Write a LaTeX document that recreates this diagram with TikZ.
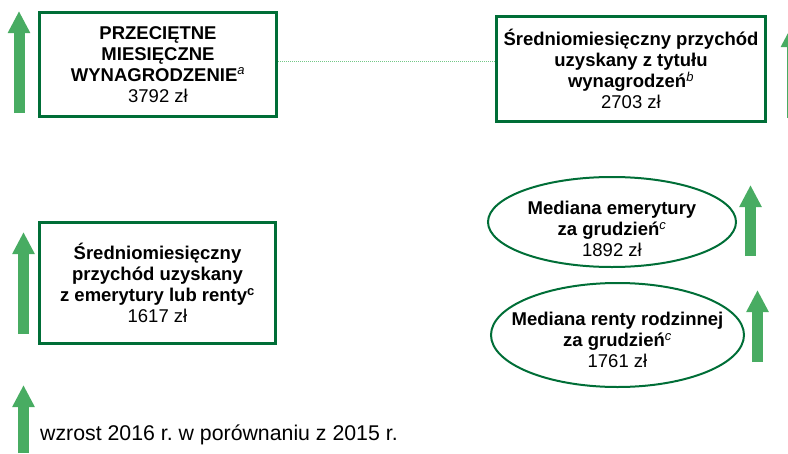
\documentclass[tikz,border=0pt]{standalone}
\usepackage{fontspec}
\setmainfont{Liberation Sans}
\frenchspacing
\usetikzlibrary{arrows.meta}
\usetikzlibrary{shapes.geometric}
\definecolor{ramka}{RGB}{0,110,55}
\definecolor{wzrost}{RGB}{72,172,98}
\definecolor{kropki}{RGB}{115,200,135}
\tikzset{
 box/.style={draw=ramka, line width=3pt, align=center, inner sep=0pt, font=\fontsize{18.5}{20.8}\selectfont},
 oval/.style={draw=ramka, line width=2pt, shape=ellipse, inner sep=0pt},
 ovaltext/.style={align=center, inner sep=0pt, font=\fontsize{18.5}{20.8}\selectfont},
 growth/.style={wzrost, line width=11pt, -{Triangle[length=22pt,width=21pt]}},
 link/.style={kropki, line width=1pt, densely dotted}
}

\begin{document}
\begin{tikzpicture}[x=1pt, y=-1pt]
\useasboundingbox (0,0) rectangle (788,453);
\node[box, minimum width=237pt, minimum height=104pt] (wyn) at (158,64.5)
 {\textbf{PRZECIĘTNE}\\ \textbf{MIESIĘCZNE}\\ \textbf{WYNAGRODZENIE}\textsuperscript{\itshape a}\\ 3792 zł};
\node[box, minimum width=269pt, minimum height=105pt] (prz) at (631,69)
 {\textbf{Średniomiesięczny przychód}\\ \textbf{uzyskany z tytułu}\\ \textbf{wynagrodzeń}\textsuperscript{\itshape b}\\ 2703 zł};
\node[box, minimum width=236pt, minimum height=121pt] (eme) at (157.5,283)
 {\textbf{Średniomiesięczny}\\ \textbf{przychód uzyskany}\\ \textbf{z emerytury lub renty}\textsuperscript{\bfseries c}\\ 1617 zł};
\node[oval, minimum width=248pt, minimum height=90pt] (med) at (612,222) {};
\node[ovaltext] (medtxt) at (612,229)
 {\textbf{Mediana emerytury}\\ \textbf{za grudzień}\textsuperscript{\itshape c}\\ 1892 zł};
\node[oval, minimum width=253pt, minimum height=104pt] (ren) at (617.5,335) {};
\node[ovaltext] (rentxt) at (617.5,340)
 {\textbf{Mediana renty rodzinnej}\\ \textbf{za grudzień}\textsuperscript{\itshape c}\\ 1761 zł};
\draw[link] ([yshift=3.5pt]wyn.east) -- ([yshift=3.5pt]wyn.east -| prz.west);
\foreach \x/\top/\bot in {19/11/113, 792/25/118, 23.5/232/334, 750.5/185/256, 757.5/290/362, 23.5/385/453} {
 \draw[growth] (\x,\bot) -- (\x,\top);
}
\node[anchor=base west, inner sep=0pt, font=\fontsize{21.3}{24}\selectfont] (opis) at (40,440)
 {wzrost 2016 r. w porównaniu z 2015 r.};
\end{tikzpicture}
\end{document}
